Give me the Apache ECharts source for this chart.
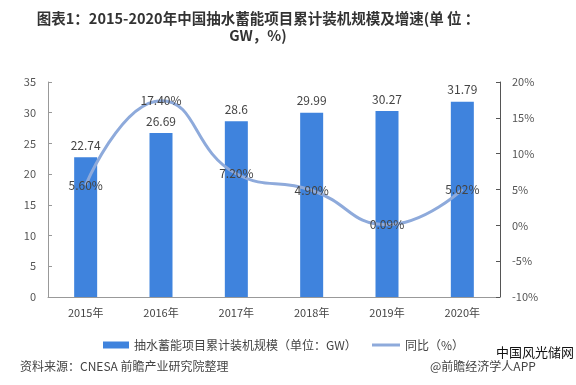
<!DOCTYPE html>
<html><head><meta charset="utf-8">
<script src="https://cdn.jsdelivr.net/npm/echarts@6/dist/echarts.min.js"></script>
<style>html,body{margin:0;padding:0;background:#fff}#c{width:576px;height:385px}</style>
</head><body><div id="c"></div>
<script>
const categories = ['2015年','2016年','2017年','2018年','2019年','2020年'];
const capacity = [22.74, 26.69, 28.6, 29.99, 30.27, 31.79];
const growth = [5.60, 17.40, 7.20, 4.90, 0.09, 5.02];
const leftTicks = [0, 35, 5];
const rightTicks = [-10, 20, 5];
const barName = '抽水蓄能项目累计装机规模（单位：GW）';
const lineName = '同比（%）';

const chart = echarts.init(document.getElementById('c'));
const font = '"Noto Sans CJK SC", "Noto Sans", sans-serif';
chart.setOption({
  animation: false,
  textStyle: {fontFamily: font},
  title: [{
    text: '图表1：2015-2020年中国抽水蓄能项目累计装机规模及增速(单 位 ：\nGW，%)',
    left: 253, top: 5, textAlign: 'center',
    textStyle: {fontSize: 14.5, fontWeight: 'bold', color: '#333', lineHeight: 17, fontFamily: font}
  }],
  graphic: [
    {type: 'text', left: 20, top: 360, style: {text: '资料来源：CNESA 前瞻产业研究院整理', fill: '#444', font: '12px ' + font}},
    {type: 'text', left: 430, top: 360, style: {text: '@前瞻经济学人APP', fill: '#444', font: '12px ' + font}},
    {type: 'text', left: 496, top: 346, style: {text: '中国风光储网', fill: '#111', font: '13px ' + font}}
  ],
  legend: [{
    top: 334, left: 98, itemWidth: 26, itemHeight: 7,
    textStyle: {fontSize: 12, color: '#444', fontFamily: font},
    data: [{name: barName, icon: 'rect'}]
  }, {
    top: 334, left: 367, itemWidth: 28, itemHeight: 3,
    textStyle: {fontSize: 12, color: '#444', fontFamily: font},
    data: [{name: lineName, icon: 'rect'}]
  }],
  grid: {left: 48, right: 76, top: 82, bottom: 88},
  xAxis: {
    type: 'category', data: categories,
    axisLine: {lineStyle: {color: '#999'}},
    axisTick: {show: false},
    axisLabel: {color: '#444', fontSize: 11, margin: 10}
  },
  yAxis: [{
    type: 'value', min: leftTicks[0], max: leftTicks[1], interval: leftTicks[2],
    axisLine: {show: true, lineStyle: {color: '#999'}},
    axisTick: {show: true, inside: true, length: 4},
    splitLine: {show: false},
    axisLabel: {color: '#555', fontSize: 11, margin: 12}
  }, {
    type: 'value', min: rightTicks[0], max: rightTicks[1], interval: rightTicks[2],
    axisLine: {show: true, lineStyle: {color: '#555'}},
    axisTick: {show: true, inside: true, length: 4},
    splitLine: {show: false},
    axisLabel: {color: '#555', fontSize: 11, margin: 12, formatter: '{value}%'}
  }],
  series: [{
    name: barName, type: 'bar', data: capacity, barWidth: 23,
    itemStyle: {color: '#3f83dd'},
    label: {show: true, position: 'top', color: '#444', fontSize: 12, distance: 6}
  }, {
    name: lineName, type: 'line', yAxisIndex: 1, data: growth, smooth: 0.5,
    symbol: 'circle', symbolSize: 1, showSymbol: true,
    lineStyle: {color: '#8eaadb', width: 3},
    itemStyle: {color: '#8eaadb'},
    labelLayout: {hideOverlap: false},
    label: {show: true, position: 'inside', offset: [0, 3], color: '#444', fontSize: 12,
      formatter: p => p.value.toFixed(2) + '%'}
  }]
});
</script></body></html>
